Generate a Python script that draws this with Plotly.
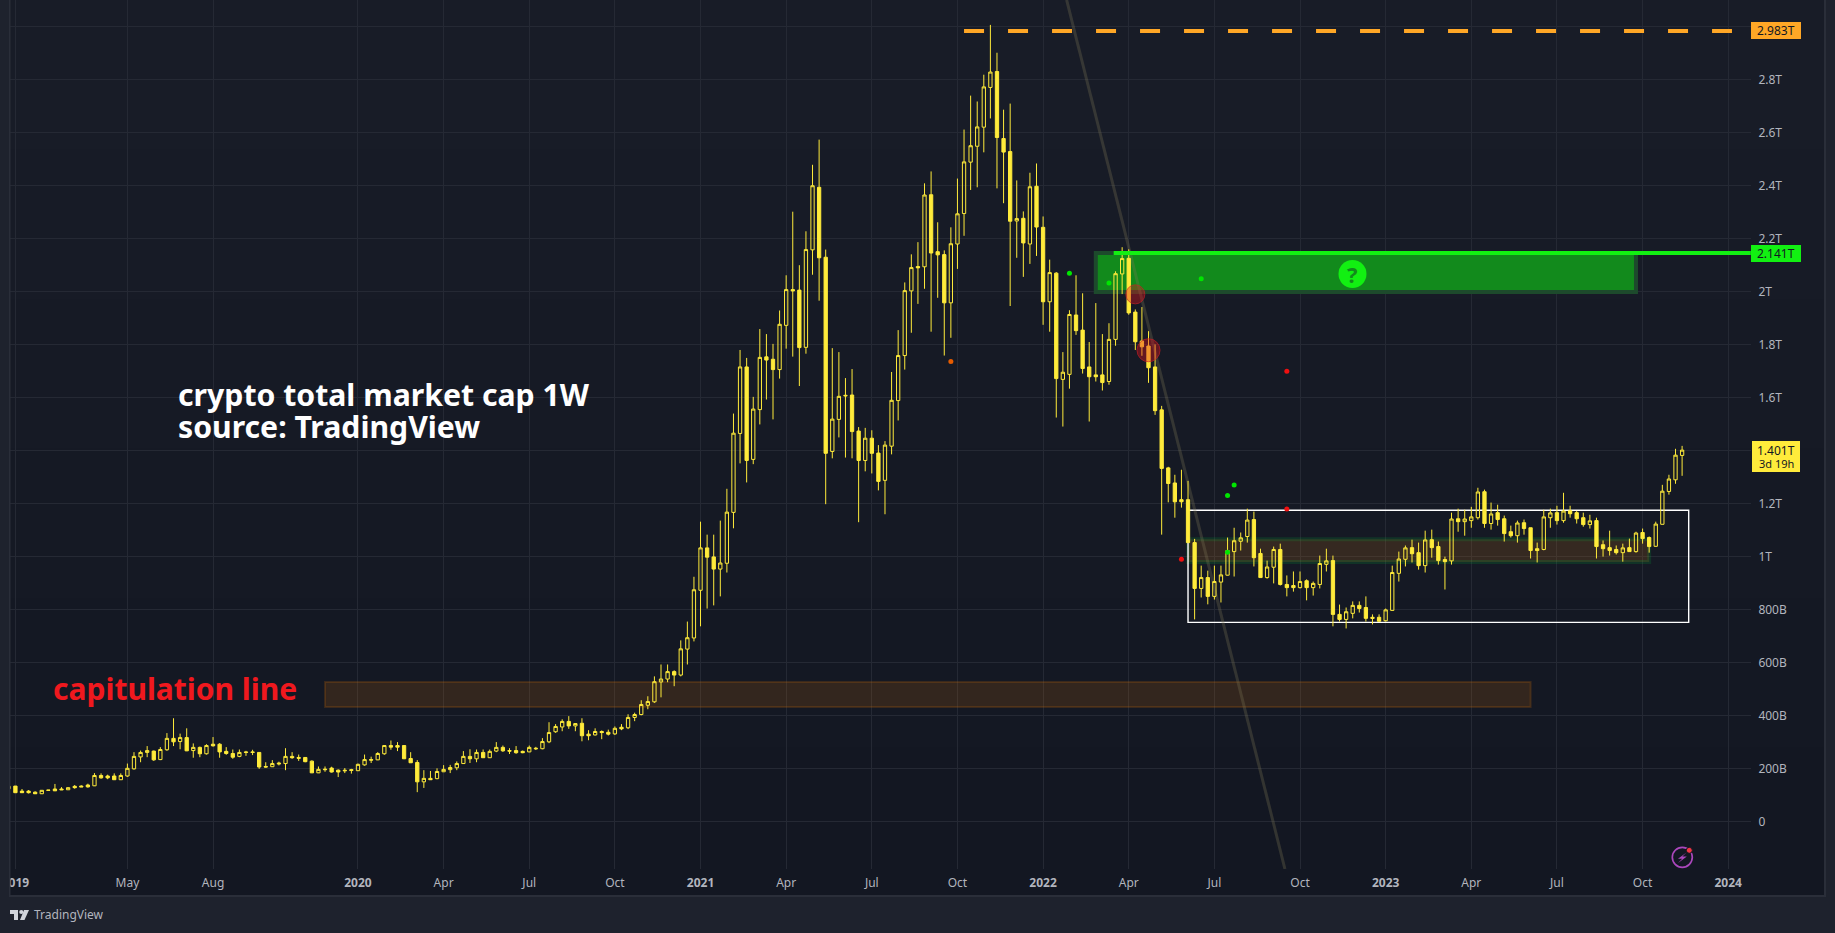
import pandas as pd
import plotly.graph_objects as go

W, H = 1835, 933
FONT = "Noto Sans"
COLOR_CANDLE = "#FFEB3B"
COLOR_FRAME = "#1E222D"
COLOR_BORDER = "#2A2E39"
COLOR_GRID = "#252934"
COLOR_TEXT = "#B2B5BE"
COLOR_ORANGE = "#FFA726"
COLOR_GREEN = "#12F012"

# weekly candles in billions of USD, first bar is the week of 2018-12-31
open_b = [
    123,
    133, 114, 114, 110, 104, 118, 122, 122, 119, 132,
    133, 137, 134, 173, 171, 171, 157, 171, 198, 243,
    260, 265, 233, 270, 313, 301, 316, 267, 279, 255,
    291, 291, 264, 256, 245, 262, 262, 260, 207, 206,
    220, 218, 245, 241, 241, 227, 183, 197, 201, 193,
    193, 195, 191, 213, 233, 232, 255, 286, 286, 286,
    237, 222, 149, 162, 161, 187, 195, 202, 218, 245,
    236, 260, 240, 265, 279, 267, 267, 264, 262, 276,
    274, 300, 338, 356, 377, 360, 370, 329, 326, 339,
    336, 330, 355, 353, 392, 403, 438, 451, 526, 537,
    565, 552, 650, 692, 872, 1032, 998, 952, 974, 1166,
    1464, 1715, 1366, 1554, 1753, 1744, 1705, 1872, 2007, 2005,
    1789, 2157, 2393, 2129, 1396, 1517, 1608, 1609, 1473, 1362,
    1446, 1390, 1287, 1416, 1588, 1758, 2002, 2094, 2093, 2365,
    2150, 2139, 1957, 2179, 2294, 2488, 2548, 2620, 2770, 2830,
    2577, 2528, 2266, 2276, 2179, 2397, 2242, 1961, 2069, 1668,
    1687, 1911, 1854, 1715, 1685, 1685, 1660, 1819, 2066, 2125,
    1922, 1813, 1794, 1715, 1553, 1334, 1277, 1214, 1214, 1052,
    879, 920, 849, 903, 929, 1018, 1057, 1075, 1139, 1011,
    920, 959, 1026, 894, 890, 882, 908, 882, 894, 970,
    984, 781, 762, 785, 815, 807, 770, 770, 757, 796,
    936, 989, 1033, 1014, 965, 1063, 1037, 988, 983, 1142,
    1131, 1135, 1146, 1244, 1124, 1165, 1142, 1093, 1078, 1127,
    1108, 1029, 1026, 1146, 1165, 1135, 1172, 1165, 1146, 1120,
    1135, 1044, 1033, 1026, 1014, 1033, 1018, 1090, 1071, 1038,
    1121, 1245, 1289, 1381,
]
high_b = [
    133,
    133, 122, 118, 113, 118, 118, 141, 129, 128, 137,
    136, 142, 182, 181, 176, 181, 181, 218, 261, 267,
    284, 267, 280, 333, 389, 331, 351, 294, 282, 291,
    318, 295, 280, 271, 271, 266, 270, 261, 223, 231,
    225, 276, 261, 252, 242, 230, 207, 207, 206, 196,
    201, 198, 218, 252, 244, 261, 287, 305, 299, 287,
    261, 231, 193, 190, 200, 212, 213, 226, 265, 272,
    271, 271, 271, 299, 286, 276, 284, 267, 286, 281,
    314, 374, 367, 385, 397, 370, 389, 344, 351, 343,
    346, 358, 367, 404, 410, 457, 472, 547, 592, 592,
    570, 683, 754, 923, 1131, 1082, 1082, 1135, 1255, 1539,
    1779, 1749, 1602, 1858, 1839, 1802, 1928, 2061, 2301, 2099,
    2227, 2478, 2573, 2158, 1786, 1771, 1673, 1707, 1488, 1485,
    1476, 1420, 1435, 1696, 1854, 2034, 2140, 2186, 2408, 2453,
    2261, 2155, 2242, 2426, 2611, 2739, 2717, 2818, 3006, 2901,
    2686, 2709, 2419, 2302, 2448, 2483, 2283, 2120, 2073, 1771,
    1929, 2061, 1993, 1809, 1956, 1839, 1880, 2076, 2167, 2159,
    1932, 1941, 1850, 1800, 1568, 1338, 1308, 1327, 1285, 1066,
    965, 946, 965, 965, 1071, 1108, 1090, 1180, 1169, 1029,
    984, 1037, 1048, 928, 943, 943, 913, 905, 1003, 1029,
    1003, 818, 807, 830, 830, 849, 781, 781, 803, 965,
    1018, 1041, 1063, 1052, 1097, 1101, 1056, 999, 1165, 1180,
    1176, 1187, 1259, 1252, 1203, 1195, 1154, 1116, 1135, 1139,
    1108, 1052, 1176, 1180, 1191, 1240, 1191, 1172, 1165, 1157,
    1146, 1060, 1097, 1041, 1048, 1067, 1093, 1105, 1075, 1131,
    1270, 1308, 1406, 1417,
]
low_b = [
    122,
    108, 107, 105, 103, 103, 116, 115, 118, 119, 123,
    130, 127, 133, 161, 159, 156, 156, 168, 195, 223,
    242, 228, 231, 266, 284, 272, 265, 240, 242, 252,
    282, 240, 251, 236, 242, 247, 250, 198, 203, 205,
    211, 193, 236, 228, 223, 182, 182, 187, 184, 167,
    182, 180, 190, 210, 220, 231, 251, 270, 265, 235,
    220, 110, 126, 156, 159, 186, 182, 193, 217, 220,
    223, 239, 239, 261, 262, 254, 255, 257, 261, 269,
    272, 295, 334, 340, 349, 340, 302, 306, 324, 310,
    324, 326, 344, 348, 378, 400, 423, 447, 468, 525,
    510, 547, 592, 679, 736, 803, 815, 849, 939, 1106,
    1351, 1279, 1348, 1498, 1592, 1517, 1671, 1784, 1754, 1643,
    1765, 2063, 1965, 1197, 1370, 1449, 1373, 1370, 1129, 1321,
    1313, 1249, 1159, 1385, 1513, 1705, 1844, 1953, 2010, 1848,
    1976, 1758, 1825, 2085, 2210, 2383, 2393, 2525, 2653, 2389,
    2333, 1945, 2127, 2055, 2104, 2134, 1874, 1848, 1524, 1490,
    1633, 1836, 1690, 1509, 1660, 1626, 1648, 1795, 1990, 1912,
    1779, 1757, 1655, 1534, 1082, 1204, 1146, 1184, 1050, 762,
    845, 819, 837, 826, 928, 924, 1022, 1052, 962, 920,
    916, 898, 890, 849, 867, 879, 834, 852, 879, 943,
    736, 754, 728, 766, 788, 754, 743, 752, 754, 796,
    905, 962, 977, 950, 939, 995, 969, 875, 969, 1093,
    1078, 1108, 1139, 1108, 1101, 1116, 1056, 1071, 1052, 1082,
    992, 977, 1023, 1108, 1120, 1127, 1146, 1124, 1112, 1105,
    992, 999, 1003, 1007, 980, 1018, 1014, 1048, 1014, 1037,
    1121, 1233, 1274, 1304,
]
close_b = [
    132,
    108, 108, 108, 104, 117, 117, 115, 119, 127, 127,
    130, 130, 173, 164, 164, 157, 173, 200, 245, 260,
    267, 232, 271, 313, 300, 316, 266, 279, 255, 286,
    285, 262, 256, 242, 260, 260, 260, 205, 205, 218,
    217, 245, 240, 238, 225, 183, 196, 195, 186, 186,
    191, 192, 215, 233, 231, 256, 286, 280, 280, 236,
    221, 149, 162, 157, 188, 196, 203, 218, 245, 236,
    260, 240, 264, 279, 266, 265, 259, 259, 279, 274,
    301, 335, 358, 377, 360, 369, 323, 323, 339, 335,
    329, 351, 349, 392, 403, 441, 452, 527, 537, 565,
    552, 651, 693, 874, 1032, 997, 952, 975, 1167, 1465,
    1715, 1362, 1556, 1751, 1741, 1705, 1876, 2007, 2002, 1788,
    2158, 2399, 2127, 1389, 1518, 1604, 1606, 1471, 1362, 1446,
    1389, 1283, 1420, 1589, 1758, 2003, 2090, 2089, 2364, 2145,
    2138, 1957, 2180, 2293, 2489, 2550, 2621, 2772, 2828, 2581,
    2526, 2265, 2275, 2183, 2395, 2243, 1961, 2071, 1671, 1695,
    1913, 1852, 1709, 1678, 1678, 1656, 1819, 2067, 2124, 1919,
    1810, 1791, 1712, 1550, 1332, 1275, 1206, 1206, 1052, 879,
    920, 849, 905, 930, 1022, 1059, 1070, 1137, 995, 920,
    960, 1026, 894, 882, 882, 905, 882, 898, 973, 983,
    781, 762, 791, 815, 803, 766, 766, 755, 798, 939,
    990, 1032, 1010, 965, 1062, 1033, 984, 980, 1141, 1131,
    1141, 1149, 1243, 1124, 1160, 1139, 1086, 1078, 1126, 1105,
    1022, 1022, 1149, 1164, 1135, 1171, 1161, 1142, 1120, 1134,
    1037, 1029, 1022, 1014, 1032, 1018, 1088, 1067, 1037, 1122,
    1246, 1292, 1382, 1401,
]
weeks = pd.date_range("2018-12-31", periods=len(close_b), freq="7D")

x_tick_dates = ["2019-01-07", "2019-05-06", "2019-08-05", "2020-01-06", "2020-04-06",
                "2020-07-06", "2020-10-05", "2021-01-04", "2021-04-05", "2021-07-05",
                "2021-10-04", "2022-01-03", "2022-04-04", "2022-07-04", "2022-10-03",
                "2023-01-02", "2023-04-03", "2023-07-03", "2023-10-02", "2024-01-01"]
x_tick_labels = ["<b>2019</b>", "May", "Aug", "<b>2020</b>", "Apr", "Jul", "Oct",
                 "<b>2021</b>", "Apr", "Jul", "Oct", "<b>2022</b>", "Apr", "Jul", "Oct",
                 "<b>2023</b>", "Apr", "Jul", "Oct", "<b>2024</b>"]
y_tick_vals = [0, 200, 400, 600, 800, 1000, 1200, 1400, 1600, 1800, 2000, 2200, 2400, 2600, 2800, 3000]
# 1.4T sits behind the yellow price tag, so it keeps its grid line only
y_tick_labels = ["0", "200B", "400B", "600B", "800B", "1T", "1.2T", "", "1.6T", "1.8T",
                 "2T", "2.2T", "2.4T", "2.6T", "2.8T", "3T"]

green_dot_dates = ["2022-01-31", "2022-03-14", "2022-06-20", "2022-07-25", "2022-07-18", "2022-07-18"]
green_dot_vals = [2069, 2032, 2048, 1269, 1230, 1016]
red_dot_dates = ["2022-09-19", "2022-05-30", "2022-09-19"]
red_dot_vals = [1179, 989, 1699]
orange_dot_dates = ["2021-09-27"]
orange_dot_vals = [1736]
circle_dates = ["2022-04-11", "2022-04-25"]
circle_vals = [1989, 1778]
circle_sizes = [19, 23]

# top-of-panel to bottom-of-panel background steps
panel_bands = ["#181C27", "#171B26", "#161A25", "#151924", "#141823", "#131722"]


def px_x(x):
    return x / W


def px_y(y):
    return 1 - y / H


def px_path(points):
    cmds = ["M" if i == 0 else "L" for i in range(len(points))]
    body = " ".join(f"{c}{px_x(x):.5f},{px_y(y):.5f}" for c, (x, y) in zip(cmds, points))
    return body + " Z"


def data_rect(x0, x1, y0, y1, fill, line, line_width, layer="between"):
    return dict(type="rect", xref="x", yref="y", x0=x0, x1=x1, y0=y0, y1=y1,
                fillcolor=fill, line=dict(color=line, width=line_width), layer=layer)


def paper_rect(x0, x1, y0, y1, fill, layer="below"):
    return dict(type="rect", xref="paper", yref="paper", x0=px_x(x0), x1=px_x(x1),
                y0=px_y(y1), y1=px_y(y0), fillcolor=fill, line=dict(width=0), layer=layer)


def paper_circle(cx, cy, r, fill, line="rgba(0,0,0,0)", line_width=0):
    return dict(type="circle", xref="paper", yref="paper", x0=px_x(cx - r), x1=px_x(cx + r),
                y0=px_y(cy + r), y1=px_y(cy - r), fillcolor=fill,
                line=dict(color=line, width=line_width), layer="above")


def paper_path(points, fill):
    return dict(type="path", xref="paper", yref="paper", path=px_path(points),
                fillcolor=fill, line=dict(width=0), layer="above")


shapes = []
band_h = 897 / len(panel_bands)
for i, band in enumerate(panel_bands):
    shapes.append(paper_rect(9, 1825, i * band_h, (i + 1) * band_h + 1, band))

shapes += [
    # capitulation band and the drawn zones
    data_rect("2019-12-02", "2023-06-05", 431, 526, "rgba(196,105,10,0.18)", "rgba(196,105,10,0.22)", 2),
    data_rect("2022-02-28", "2023-09-25", 1998, 2145, "#128A1C", "#1D4A2C", 4),
    data_rect("2022-06-06", "2023-10-09", 979, 1065, "rgba(200,115,20,0.18)", "rgba(0,200,60,0.15)", 4),
    data_rect("2022-06-06", "2023-11-20", 751, 1174, "rgba(0,0,0,0)", "#FFFFFF", 1.4),
    # falling trend line
    dict(type="line", xref="x", yref="y", x0="2022-01-28", x1="2022-09-17", y0=3100, y1=-180,
         line=dict(color="rgba(125,120,85,0.3)", width=3), layer="between"),
    # all time high dashes
    dict(type="line", xref="x", yref="y", x0="2021-10-11", x1="2024-01-05", y0=2983, y1=2983,
         line=dict(color=COLOR_ORANGE, width=4, dash="20px,24px"), layer="above"),
    # resistance line
    dict(type="line", xref="x", yref="y", x0="2022-03-19", x1="2024-01-25", y0=2145, y1=2145,
         line=dict(color=COLOR_GREEN, width=4), layer="above"),
    # frame around the chart pane
    paper_rect(0, 9, 0, H, COLOR_FRAME, "above"),
    paper_rect(9, 10.5, 0, 897, COLOR_BORDER, "above"),
    paper_rect(1824, 1826, 0, 897, COLOR_BORDER, "above"),
    paper_rect(1826, W, 0, H, COLOR_FRAME, "above"),
    paper_rect(9, 1826, 895, 897, COLOR_BORDER, "above"),
    paper_rect(0, W, 897, H, COLOR_FRAME, "above"),
    # price tags
    paper_rect(1751, 1801, 22, 39, COLOR_ORANGE, "above"),
    paper_rect(1751, 1801, 245, 262, COLOR_GREEN, "above"),
    paper_rect(1752, 1800, 441, 472, COLOR_CANDLE, "above"),
    # question mark badge
    paper_circle(1352.5, 274, 14, COLOR_GREEN),
    # lightning icon
    paper_circle(1682.3, 857.3, 10, "rgba(0,0,0,0)", "#AB47BC", 1.7),
    paper_path([(1686.5, 852.5), (1678, 858.8), (1682.2, 858.8), (1677.8, 863.2),
                (1686.8, 856.6), (1682.4, 856.6)], "#AB47BC"),
    paper_circle(1689.3, 850.3, 3, "#F23645", "#131722", 1),
    # TradingView logo
    paper_path([(10, 910), (18, 910), (18, 920), (14, 920), (14, 914), (10, 914)], "#D1D4DC"),
    paper_circle(21.3, 912, 2.1, "#D1D4DC"),
    paper_path([(24, 910), (29, 910), (24.5, 920), (20, 920)], "#D1D4DC"),
]


def label(text, x, y, size, color, anchor="left", font=FONT):
    return dict(text=text, xref="paper", yref="paper", x=px_x(x), y=px_y(y), xanchor=anchor,
                yanchor="middle", showarrow=False, font=dict(family=font, size=size, color=color))


annotations = [
    label("<b>crypto total market cap 1W</b>", 176, 394, 30.2, "#FFFFFF"),
    label("<b>source: TradingView</b>", 176, 426, 30.2, "#FFFFFF"),
    label("<b>capitulation line</b>", 51, 688, 30, "#F0181E"),
    label("2.983T", 1776, 30.5, 12, "#131722", "center"),
    label("2.141T", 1776, 253.5, 12, "#131722", "center"),
    label("1.401T", 1776, 450, 12, "#131722", "center"),
    label("3d 19h", 1776, 463, 11, "#131722", "center"),
    label("<b>?</b>", 1352.5, 274, 22, "#128A1C", "center"),
    label("TradingView", 31.5, 914.5, 12, COLOR_TEXT),
]

fig = go.Figure()
fig.add_trace(go.Scatter(
    x=circle_dates, y=circle_vals, mode="markers",
    marker=dict(size=circle_sizes, color="rgba(225,20,30,0.55)", line=dict(color="#D01C24", width=1)),
    hoverinfo="skip",
))
fig.add_trace(go.Candlestick(
    x=weeks, open=open_b, high=high_b, low=low_b, close=close_b,
    increasing=dict(line=dict(color=COLOR_CANDLE, width=1), fillcolor="rgba(0,0,0,0)"),
    decreasing=dict(line=dict(color=COLOR_CANDLE, width=1), fillcolor=COLOR_CANDLE),
    whiskerwidth=0,
))
for dates, vals, color in [(green_dot_dates, green_dot_vals, "#00E600"),
                           (red_dot_dates, red_dot_vals, "#F01010"),
                           (orange_dot_dates, orange_dot_vals, "#E65C00")]:
    fig.add_trace(go.Scatter(x=dates, y=vals, mode="markers",
                             marker=dict(size=5, color=color), hoverinfo="skip"))

fig.update_layout(
    width=W, height=H, autosize=False,
    margin=dict(l=0, r=0, t=0, b=0, autoexpand=False),
    paper_bgcolor=COLOR_FRAME,
    plot_bgcolor="rgba(0,0,0,0)",
    font=dict(family=FONT, size=12, color=COLOR_TEXT),
    showlegend=False,
    shapes=shapes,
    annotations=annotations,
    boxgap=0.5,
    boxgroupgap=0,
    xaxis=dict(
        domain=[10 / W, 1751 / W],
        type="date",
        range=["2019-01-01 06:00", "2024-01-25 05:00"],
        rangeslider=dict(visible=False),
        tickmode="array", tickvals=x_tick_dates, ticktext=x_tick_labels,
        tickangle=0, ticks="outside", ticklen=3, tickcolor="rgba(0,0,0,0)",
        gridcolor=COLOR_GRID, gridwidth=1, showline=False, zeroline=False,
        tickfont=dict(family=FONT, size=12, color=COLOR_TEXT),
    ),
    yaxis=dict(
        domain=[(H - 869) / H, 1],
        side="right",
        range=[-180, 3100],
        tickmode="array", tickvals=y_tick_vals, ticktext=y_tick_labels,
        ticks="outside", ticklen=4, tickcolor="rgba(0,0,0,0)",
        gridcolor=COLOR_GRID, gridwidth=1, showline=False, zeroline=False,
        tickfont=dict(family=FONT, size=12, color=COLOR_TEXT),
    ),
)

fig.write_html(
    "out.html",
    config={"displayModeBar": False},
    post_script="document.body.style.margin='0';document.documentElement.style.overflow='hidden';",
)
